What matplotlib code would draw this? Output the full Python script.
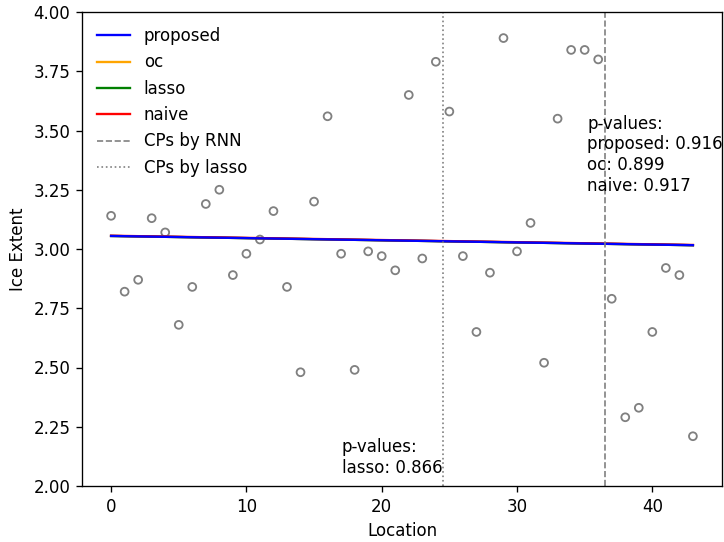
import numpy as np
import matplotlib
matplotlib.use("Agg")
import matplotlib.pyplot as plt

# observed ice extent per location
ice = [3.14, 2.82, 2.87, 3.13, 3.07, 2.68, 2.84, 3.19, 3.25, 2.89,
       2.98, 3.04, 3.16, 2.84, 2.48, 3.20, 3.56, 2.98, 2.49, 2.99,
       2.97, 2.91, 3.65, 2.96, 3.79, 3.58, 2.97, 2.65, 2.90, 3.89,
       2.99, 3.11, 2.52, 3.55, 3.84, 3.84, 3.80, 2.79, 2.29, 2.33,
       2.65, 2.92, 2.89, 2.21]
locs = np.arange(len(ice))

# fitted trend (value at first and last location) for each method
methods = ['proposed', 'oc', 'lasso', 'naive']
colors = ['blue', 'orange', 'green', 'red']
fit_start = [3.055, 3.055, 3.055, 3.056]
fit_end = [3.016, 3.016, 3.016, 3.017]

cp_rnn = [36.5]
cp_lasso = [24.5]

fig = plt.figure(figsize=(7.24 / 1.2, 5.42 / 1.2), dpi=120)
ax = fig.add_axes([82 / 724, 1 - 486 / 542, 640 / 724, 474 / 542])

ax.scatter(locs, ice, facecolors='none', edgecolors='gray', s=22, linewidths=1.1)

xs = np.array([locs[0], locs[-1]])
order = [1, 2, 3, 0]  # draw proposed last so it sits on top
for i in order:
    ax.plot(xs, [fit_start[i], fit_end[i]], color=colors[i], lw=1.4, label=methods[i])

for c in cp_rnn:
    ax.axvline(c, color='gray', linestyle='--', lw=1, label='CPs by RNN')
for c in cp_lasso:
    ax.axvline(c, color='gray', linestyle=':', lw=1, label='CPs by lasso')

handles, labels = ax.get_legend_handles_labels()
want = ['proposed', 'oc', 'lasso', 'naive', 'CPs by RNN', 'CPs by lasso']
h = [handles[labels.index(w)] for w in want]
ax.legend(h, want, loc='upper left', frameon=False)

ax.text(35.2, 3.567, 'p-values:\nproposed: 0.916\noc: 0.899\nnaive: 0.917',
        ha='left', va='top')
ax.text(24.5, 2.04, 'p-values:\nlasso: 0.866', ha='right', va='bottom',
        multialignment='left')

ax.set_ylim(2.0, 4.0)
ax.set_xlabel('Location')
ax.set_ylabel('Ice Extent')

fig.savefig('out.png', dpi=120)
